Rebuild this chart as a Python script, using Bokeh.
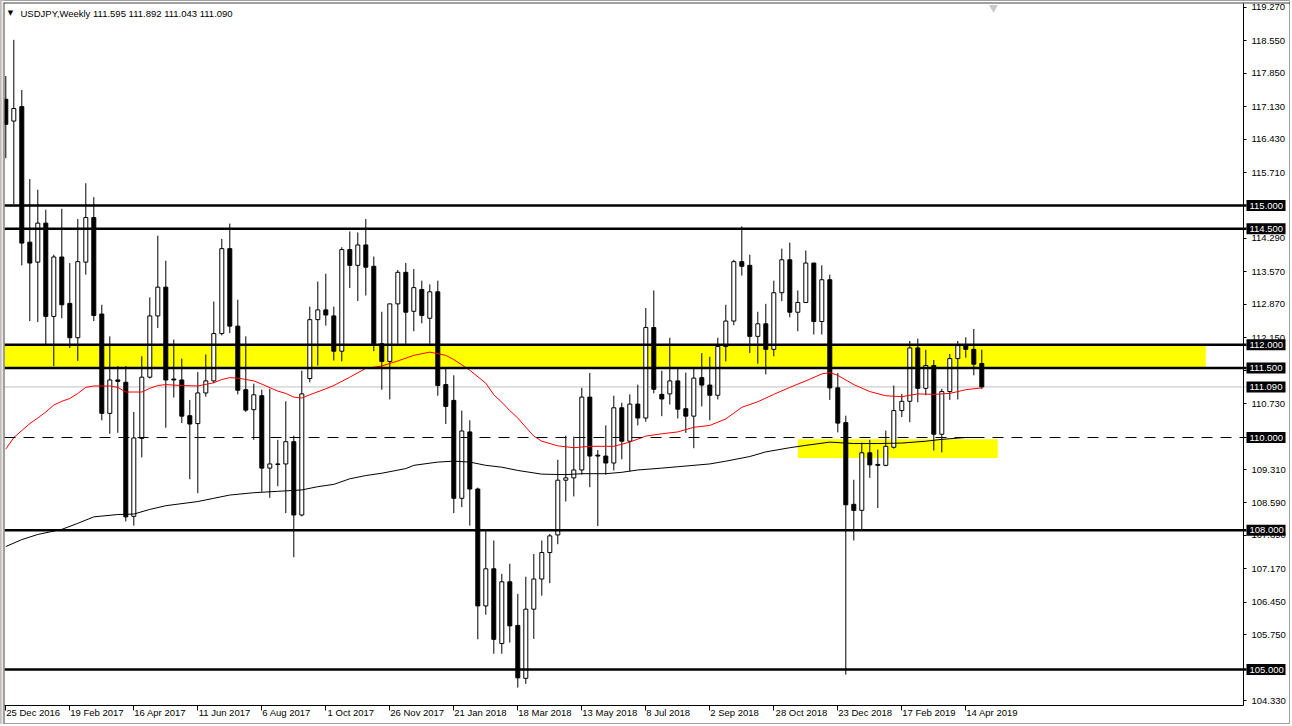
from bokeh.plotting import figure
from bokeh.models import ColumnDataSource, FixedTicker, NumeralTickFormatter, LinearAxis, Range1d
from bokeh.embed import file_html
from bokeh.resources import INLINE
from bokeh.core.properties import value

# ---------------- data (weekly USDJPY candles, index 0 = week of 25 Dec 2016) ----------------
opens = [117.29, 116.82, 117.13, 114.21, 113.78, 114.62, 112.61, 113.89, 112.89, 112.15,
         113.78, 114.74, 112.66, 110.52, 111.24, 111.19, 108.30, 109.98, 111.30, 112.62,
         113.24, 111.26, 111.24, 110.47, 110.30, 110.96, 111.22, 112.24, 114.07, 112.40,
         111.03, 110.60, 110.90, 109.34, 109.43, 109.43, 109.91, 108.33, 111.27, 112.54,
         112.75, 112.62, 111.86, 114.05, 113.71, 114.15, 113.69, 112.02, 111.64, 112.88,
         113.56, 112.72, 113.19, 112.57, 113.14, 111.14, 110.80, 108.69, 110.12, 108.89,
         106.37, 107.17, 105.56, 106.89, 105.95, 104.81, 106.30, 106.95, 107.52, 107.90,
         109.08, 109.13, 109.30, 110.87, 109.62, 109.60, 109.45, 110.64, 109.92, 110.72,
         110.42, 112.37, 110.93, 110.94, 111.22, 110.62, 110.46, 111.29, 111.13, 110.91,
         111.96, 112.51, 113.79, 113.71, 112.18, 112.45, 111.90, 113.12, 113.83, 112.70,
         112.91, 113.76, 112.50, 113.40, 111.07, 110.32, 108.56, 108.43, 109.67, 109.42,
         109.40, 109.79, 110.58, 110.78, 111.93, 111.06, 111.55, 110.07, 110.99, 111.70,
         111.98, 111.90, 111.595]
highs = [117.79, 118.57, 117.49, 115.57, 115.34, 114.91, 113.94, 114.93, 113.76, 114.71,
         115.48, 115.18, 112.86, 112.18, 111.54, 111.54, 110.55, 111.75, 113.02, 114.35,
         113.81, 112.11, 111.70, 110.81, 111.41, 111.79, 112.93, 114.28, 114.61, 112.97,
         112.18, 111.16, 111.03, 111.05, 109.95, 110.78, 110.04, 111.44, 112.82, 113.36,
         113.53, 112.82, 114.10, 114.44, 114.42, 114.71, 113.90, 112.71, 112.88, 113.61,
         113.76, 113.63, 113.38, 113.30, 113.38, 111.48, 111.34, 110.58, 110.37, 108.92,
         108.02, 107.78, 107.06, 107.28, 106.63, 107.00, 107.49, 107.78, 107.92, 109.52,
         110.04, 110.02, 111.07, 111.39, 109.73, 110.26, 110.90, 110.75, 110.93, 111.14,
         112.79, 113.17, 111.44, 112.15, 111.48, 111.40, 111.48, 111.82, 111.74, 112.15,
         112.86, 113.83, 114.55, 113.94, 112.71, 112.88, 113.38, 114.07, 114.20, 113.17,
         114.03, 113.76, 113.71, 113.51, 111.39, 110.47, 109.09, 109.89, 109.95, 109.74,
         110.15, 111.12, 110.94, 112.08, 112.13, 111.89, 111.67, 111.05, 111.80, 112.08,
         112.16, 112.34, 111.892]
lows = [116.02, 115.03, 113.71, 112.51, 112.49, 112.00, 111.54, 112.57, 111.93, 111.65,
        113.51, 112.51, 110.37, 110.08, 110.10, 108.19, 108.10, 109.57, 111.27, 112.36,
        110.21, 110.86, 110.31, 109.10, 108.80, 110.88, 111.17, 112.20, 112.25, 110.93,
        110.55, 109.95, 108.83, 108.70, 108.95, 108.37, 107.42, 108.30, 111.19, 111.55,
        112.41, 111.66, 111.64, 113.22, 112.94, 113.06, 111.86, 111.03, 110.82, 112.02,
        112.02, 112.29, 112.46, 112.02, 110.90, 110.29, 108.37, 108.50, 108.10, 105.65,
        106.18, 105.34, 105.34, 105.58, 104.61, 104.69, 105.66, 106.59, 106.86, 107.70,
        108.62, 108.73, 109.20, 108.93, 108.09, 109.20, 109.29, 109.53, 109.27, 110.26,
        110.34, 110.95, 110.46, 110.71, 110.41, 110.10, 109.77, 110.67, 110.37, 110.82,
        111.64, 112.42, 113.49, 111.82, 111.59, 111.36, 111.75, 112.94, 112.59, 112.29,
        112.91, 112.22, 112.22, 110.81, 110.11, 104.89, 107.78, 108.01, 109.13, 108.48,
        109.38, 109.76, 110.44, 110.33, 110.76, 110.91, 109.72, 109.68, 110.81, 110.82,
        111.72, 111.34, 111.043]
closes = [116.75, 117.09, 114.19, 113.76, 114.62, 112.61, 113.89, 112.86, 112.15, 113.79,
          114.74, 112.63, 110.52, 111.24, 111.21, 108.29, 109.99, 111.30, 112.62, 113.24,
          111.24, 111.24, 110.46, 110.29, 110.96, 111.22, 112.24, 114.07, 112.40, 111.02,
          110.59, 110.92, 109.34, 109.43, 109.42, 109.91, 108.33, 110.94, 112.54, 112.75,
          112.64, 111.86, 114.05, 113.71, 114.15, 113.67, 112.02, 111.64, 112.88, 113.56,
          112.70, 113.23, 112.63, 113.14, 111.12, 110.67, 108.69, 110.14, 108.89, 106.37,
          107.17, 105.65, 106.89, 105.94, 104.82, 106.30, 106.95, 107.52, 107.88, 109.08,
          109.13, 109.30, 110.87, 109.60, 109.60, 109.45, 110.64, 109.92, 110.72, 110.42,
          112.37, 111.04, 110.83, 111.22, 110.61, 110.46, 111.28, 111.13, 110.91, 111.96,
          112.51, 113.79, 113.69, 112.18, 112.45, 111.90, 113.12, 113.83, 112.70, 112.91,
          113.76, 112.50, 113.40, 111.07, 110.31, 108.55, 108.43, 109.67, 109.41, 109.40,
          109.81, 110.58, 110.78, 111.93, 111.06, 111.55, 110.07, 110.99, 111.70, 111.98,
          111.90, 111.58, 111.090]

# moving averages (candle index, value)
ma_red_idx = [0, 1, 2, 3, 4, 5, 6, 7, 8, 9, 10, 11, 13, 14, 15, 17, 18, 19, 20, 22, 24, 26, 27, 28, 29,
              31, 32, 34, 35, 36, 37, 38, 40, 41, 43, 45, 47, 49, 51, 53, 55, 56, 58, 60, 61, 62, 63,
              64, 65, 66, 67, 69, 71, 73, 76, 78, 80, 82, 84, 86, 88, 90, 92, 94, 96, 98, 100, 102,
              103, 104, 106, 108, 110, 112, 114, 116, 118, 120, 122]
ma_red_val = [109.75, 110.0, 110.15, 110.3, 110.42, 110.55, 110.7, 110.78, 110.84, 110.95, 111.08,
              111.11, 111.11, 111.08, 110.98, 110.98, 111.06, 111.12, 111.14, 111.12, 111.11, 111.18,
              111.25, 111.29, 111.28, 111.22, 111.15, 111.0, 110.95, 110.87, 110.85, 110.92, 111.05,
              111.12, 111.30, 111.49, 111.54, 111.65, 111.77, 111.84, 111.77, 111.68, 111.45, 111.17,
              110.92, 110.76, 110.58, 110.42, 110.22, 110.03, 109.92, 109.82, 109.78, 109.81, 109.81,
              109.9, 110.03, 110.08, 110.12, 110.22, 110.26, 110.40, 110.65, 110.77, 110.93, 111.08,
              111.22, 111.37, 111.40, 111.34, 111.14, 110.99, 110.90, 110.88, 110.94, 110.93, 110.95,
              111.03, 111.07]
ma_black_idx = [0, 2, 4, 7, 9, 11, 14, 16, 18, 20, 24, 26, 28, 31, 34, 37, 39, 41, 43, 45, 47, 50, 51,
                54, 56, 58, 60, 62, 64, 67, 70, 72, 75, 77, 79, 82, 84, 88, 90, 93, 95, 98, 100, 103,
                106, 109, 112, 115, 117, 120, 122]
ma_black_val = [107.65, 107.80, 107.91, 108.02, 108.15, 108.29, 108.34, 108.35, 108.45, 108.53, 108.62,
                108.69, 108.76, 108.81, 108.84, 108.87, 108.94, 108.99, 109.11, 109.18, 109.23, 109.33,
                109.40, 109.47, 109.49, 109.47, 109.40, 109.36, 109.29, 109.21, 109.20, 109.22, 109.22,
                109.25, 109.30, 109.34, 109.37, 109.43, 109.49, 109.59, 109.69, 109.78, 109.83, 109.90,
                109.87, 109.87, 109.88, 109.92, 109.96, 110.00, 110.00]

# chart objects (MT4 horizontal lines / rectangles)
level_lines = [115.0, 114.5, 112.0, 111.5, 108.0, 105.0]
dashed_level = [110.0]
current_price = [111.09]
price_tags = [115.0, 114.5, 112.0, 111.5, 111.09, 110.0, 108.0, 105.0]
zone_right = [150.0, 124.0]
zone_left_idx = [None, 99.0]          # None = from the left edge of the chart
zone_bottom = [111.5, 109.56]
zone_top = [112.0, 109.96]

# axes
y_tick_values = [119.27, 118.55, 117.85, 117.13, 116.43, 115.71, 114.29, 113.57, 112.87, 112.15,
                 111.45, 110.73, 109.31, 108.59, 107.89, 107.17, 106.45, 105.75, 104.33]
x_tick_idx = [0, 8, 16, 24, 32, 40, 48, 56, 64, 72, 80, 88, 96, 104, 112, 120]
x_tick_labels = ["25 Dec 2016", "19 Feb 2017", "16 Apr 2017", "11 Jun 2017", "6 Aug 2017",
                 "1 Oct 2017", "26 Nov 2017", "21 Jan 2018", "18 Mar 2018", "13 May 2018",
                 "8 Jul 2018", "2 Sep 2018", "28 Oct 2018", "23 Dec 2018", "17 Feb 2019",
                 "14 Apr 2019"]
header_text = "USDJPY,Weekly  111.595 111.892 111.043 111.090"

# ---------------- layout (pixel geometry of the MT4 window) ----------------
FONT = "Liberation Sans"
FS = "9.5px"
W, H = 1290, 724
PX = 8.0          # pixels per weekly bar
BAR0 = 5.3        # pixel x of bar 0
PPU = 46.4        # pixels per yen
Y115 = 205.0      # pixel y of 115.000
LEFT, RIGHT, BOTTOM = 4, 1243, 705
TAG_L, TAG_R, TAG_HALF = 1246, 1285, 5.5


def xd(sx):
    return (sx - BAR0) / PX


def yd(sy):
    return 115.0 + (Y115 - sy) / PPU


p = figure(width=W, height=H, x_range=Range1d(xd(0), xd(W)), y_range=Range1d(yd(H), yd(0)),
           x_axis_location=None, y_axis_location=None, min_border=0,
           output_backend="svg", toolbar_location=None)
p.grid.visible = False
p.background_fill_color = "white"
p.border_fill_color = "white"
p.outline_line_color = "#A0A0A0"
p.outline_line_width = 1

# rectangles (background)
zl = [xd(LEFT) if v is None else v for v in zone_left_idx]
p.quad(left=zl, right=zone_right, bottom=zone_bottom, top=zone_top,
       fill_color="#FFFF00", line_color=None)

# current price line
p.segment(x0=[xd(LEFT)], x1=[xd(TAG_L)], y0=current_price, y1=current_price,
          line_color="#C0C0C0", line_width=1)

# candles
idx = list(range(len(opens)))
src = ColumnDataSource(dict(
    x=idx, o=opens, h=highs, l=lows, c=closes,
    top=[max(a, b) for a, b in zip(opens, closes)],
    bottom=[min(a, b) for a, b in zip(opens, closes)],
    fill=["white" if c > o else "black" for o, c in zip(opens, closes)],
))
p.segment(x0="x", y0="l", x1="x", y1="h", source=src, line_color="black", line_width=1)
p.vbar(x="x", width=0.5, top="top", bottom="bottom", source=src,
       fill_color="fill", line_color="black", line_width=1)

# moving averages
p.line(ma_black_idx, ma_black_val, line_color="black", line_width=1)
p.line(ma_red_idx, ma_red_val, line_color="#FF0000", line_width=1)

# horizontal lines
n = len(level_lines)
p.segment(x0=[xd(LEFT)] * n, x1=[xd(TAG_L)] * n, y0=level_lines, y1=level_lines,
          line_color="black", line_width=2.5)
p.segment(x0=[xd(LEFT)], x1=[xd(TAG_L)], y0=dashed_level, y1=dashed_level,
          line_color="black", line_width=1, line_dash="11 8")

# window chrome: mask left of the chart border and draw the borders
p.quad(left=[xd(0)], right=[xd(LEFT)], bottom=[yd(H)], top=[yd(0)], fill_color="white",
       line_color=None)
p.quad(left=[xd(0)], right=[xd(2)], bottom=[yd(H)], top=[yd(0)], fill_color="#D4D0C8",
       line_color=None)
p.segment(x0=[xd(LEFT - 0.5)], x1=[xd(LEFT - 0.5)], y0=[yd(H)], y1=[yd(2)],
          line_color="#404040", line_width=1)
p.segment(x0=[xd(LEFT - 0.5)], x1=[xd(W)], y0=[yd(2.5)], y1=[yd(2.5)],
          line_color="#404040", line_width=1)

# right price axis (drawn at the chart's right edge)
yaxis = LinearAxis(ticker=FixedTicker(ticks=y_tick_values),
                   formatter=NumeralTickFormatter(format="0.000"),
                   fixed_location=xd(RIGHT), bounds=(yd(BOTTOM), yd(2.5)))
yaxis.axis_line_color = "black"
yaxis.major_tick_out = 3
yaxis.major_tick_in = 0
yaxis.minor_tick_line_color = None
yaxis.major_label_standoff = 5
yaxis.major_label_text_font = FONT
yaxis.major_label_text_font_size = FS
yaxis.major_label_text_color = "black"
p.add_layout(yaxis, "right")


# bottom date axis: MT4 labels start at the tick
def text_w(s):
    w = {" ": .278, ".": .278, "D": .722, "F": .611, "A": .667, "J": .5, "M": .833, "N": .722,
         "O": .778, "S": .667, "l": .222, "r": .333, "y": .5, "c": .5, "v": .5}
    return sum(w.get(ch, .556) for ch in s) * 9.5


centers = [round(t + (0.5 + text_w(s) / 2) / PX, 4) for t, s in zip(x_tick_idx, x_tick_labels)]
xaxis = LinearAxis(ticker=FixedTicker(ticks=centers, minor_ticks=x_tick_idx),
                   fixed_location=yd(BOTTOM), bounds=(xd(LEFT - 0.5), xd(RIGHT)))
xaxis.major_label_overrides = {c: s for c, s in zip(centers, x_tick_labels)}
xaxis.axis_line_color = "black"
xaxis.major_tick_line_color = None
xaxis.major_tick_out = 0
xaxis.major_tick_in = 0
xaxis.minor_tick_line_color = "black"
xaxis.minor_tick_out = 5
xaxis.minor_tick_in = 0
xaxis.major_label_standoff = -4
xaxis.major_label_text_font = FONT
xaxis.major_label_text_font_size = FS
xaxis.major_label_text_color = "black"
p.add_layout(xaxis, "below")

# price tags on the axis (on top of the axis labels)
m = len(price_tags)
p.quad(left=[xd(TAG_L)] * m, right=[xd(TAG_R)] * m,
       bottom=[v - TAG_HALF / PPU for v in price_tags], top=[v + TAG_HALF / PPU for v in price_tags],
       fill_color="black", line_color=None, level="overlay")
p.text(x=[xd(TAG_L + 3)] * m, y=price_tags, text=[f"{v:.3f}" for v in price_tags],
       text_font=value(FONT), text_font_size=FS, text_color="white", text_align="left",
       text_baseline="middle", level="overlay")

# header
p.text(x=[xd(10)], y=[yd(12)], text=["\u25BC"], text_font=value("DejaVu Sans"),
       text_font_size="7px", text_color="black", text_align="center", text_baseline="middle")
p.text(x=[xd(20)], y=[yd(12.5)], text=[header_text], text_font=value(FONT),
       text_font_size=FS, text_color="black", text_align="left", text_baseline="middle")

# chart-shift marker
p.scatter(x=[xd(993)], y=[yd(7)], marker="inverted_triangle", size=9,
          fill_color="#C8C8C8", line_color=None)

open("out.html", "w").write(file_html(p, INLINE))
